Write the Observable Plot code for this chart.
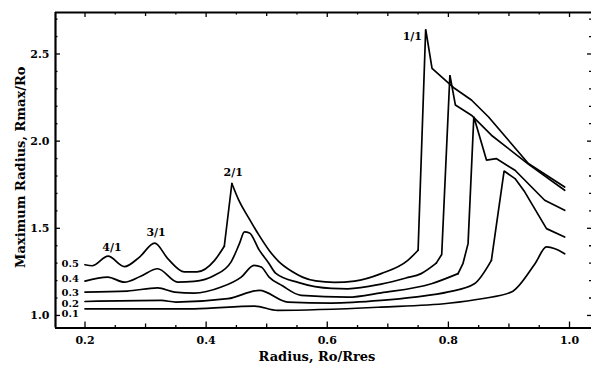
<!DOCTYPE html>
<html><head><meta charset="utf-8">
<script src="https://cdn.jsdelivr.net/npm/d3@7"></script>
<script src="https://cdn.jsdelivr.net/npm/@observablehq/plot@0.6"></script>
<style>
body{margin:0;background:#fff}
#chart svg{font-family:"DejaVu Serif",serif;font-weight:bold;background:#fff}
</style>
</head><body><div id="chart"></div>
<script>
// Curve for e = 0.5
const x05 = [0.200,0.212,0.238,0.265,0.290,0.315,0.337,0.364,0.385,0.414,0.430,0.4425,0.4537,0.4705,0.487,0.5035,0.520,0.542,0.559,0.581,0.612,0.645,0.689,0.733,0.750,0.7625,0.773,0.810,0.838,0.866,0.932,0.992];
const y05 = [1.291,1.285,1.340,1.280,1.335,1.415,1.325,1.250,1.250,1.316,1.397,1.757,1.663,1.558,1.462,1.376,1.309,1.252,1.220,1.198,1.190,1.197,1.240,1.316,1.374,2.642,2.418,2.303,2.236,2.140,1.872,1.737];
// Curve for e = 0.4
const x04 = [0.200,0.2375,0.265,0.292,0.320,0.353,0.380,0.414,0.441,0.455,0.4633,0.4716,0.4875,0.5035,0.5146,0.553,0.607,0.634,0.689,0.730,0.755,0.780,0.789,0.8025,0.8116,0.838,0.871,0.932,0.992];
const y04 = [1.197,1.220,1.191,1.225,1.268,1.191,1.195,1.230,1.306,1.412,1.479,1.473,1.376,1.300,1.243,1.188,1.155,1.153,1.180,1.215,1.240,1.300,1.350,2.379,2.207,2.149,2.034,1.868,1.718];
// Curve for e = 0.3
const x03 = [0.200,0.270,0.320,0.348,0.380,0.425,0.458,0.479,0.491,0.504,0.526,0.557,0.634,0.689,0.772,0.816,0.824,0.8325,0.842,0.863,0.879,0.910,0.959,0.992];
const y03 = [1.134,1.140,1.158,1.134,1.128,1.163,1.220,1.287,1.278,1.220,1.170,1.115,1.105,1.130,1.182,1.240,1.297,1.412,2.140,1.891,1.900,1.833,1.661,1.603];
// Curve for e = 0.2
const x02 = [0.200,0.326,0.350,0.436,0.488,0.535,0.607,0.689,0.744,0.800,0.843,0.871,0.892,0.910,0.926,0.962,0.992];
const y02 = [1.080,1.086,1.077,1.096,1.144,1.077,1.071,1.086,1.105,1.135,1.182,1.316,1.829,1.785,1.709,1.498,1.450];
// Curve for e = 0.1
const x01 = [0.200,0.380,0.480,0.518,0.689,0.800,0.855,0.904,0.943,0.962,0.976,0.992];
const y01 = [1.038,1.038,1.054,1.029,1.048,1.070,1.096,1.134,1.297,1.393,1.383,1.354];

// x-ranges drawn with straight segments (sharp resonance spikes)
const sharp05 = [[0.430, 0.4425], [0.750, 0.992]];
const sharp04 = [[0.780, 0.992]];
const sharp03 = [[0.816, 0.992]];
const sharp02 = [[0.871, 0.992]];
const sharp01 = [];

const seriesNames = ["0.5","0.4","0.3","0.2","0.1"];
const curveLabelY = [1.299,1.213,1.132,1.069,1.011];
const curveLabelX = 0.190;

const peakLabels = ["4/1","3/1","2/1","1/1"];
const peakX = [0.2446,0.3174,0.4446,0.7405];
const peakY = [1.391,1.477,1.818,2.600];

const xTicks = [0.2,0.4,0.6,0.8,1.0];
const yTicks = [1.0,1.5,2.0,2.5];
const xMid = [0.3,0.5,0.7,0.9];
const xMinor = [0.25,0.35,0.45,0.55,0.65,0.75,0.85,0.95];
const yMinor = [1.1,1.2,1.3,1.4,1.6,1.7,1.8,1.9,2.1,2.2,2.3,2.4,2.6,2.7];

const xDomain = [0.1513, 1.0363];
const yDomain = [0.928, 2.738];

const W = 591, H = 366, mL = 55, mR = 0, mT = 12, mB = 38.5;
const pxX = (W - mL - mR) / (xDomain[1] - xDomain[0]);
const pxY = (H - mT - mB) / (yDomain[1] - yDomain[0]);

const series = [[x05,y05,sharp05],[x04,y04,sharp04],[x03,y03,sharp03],[x02,y02,sharp02],[x01,y01,sharp01]];
// Split each series into pieces: straight pieces inside sharp spans, smooth elsewhere
const rows = [];
series.forEach(([xs, ys, spans], k) => {
  const inSpan = (a, b) => spans.some(([s, e]) => a >= s - 1e-9 && b <= e + 1e-9);
  let piece = 0, cur = null;
  for (let i = 0; i < xs.length - 1; i++) {
    const type = inSpan(xs[i], xs[i + 1]) ? "linear" : "smooth";
    if (type !== cur) { piece++; cur = type; rows.push({id: k + "-" + piece, type, x: xs[i], y: ys[i]}); }
    rows.push({id: k + "-" + piece, type, x: xs[i + 1], y: ys[i + 1]});
  }
});

const [X0, X1] = xDomain, [Y0, Y1] = yDomain;
const tickMarks = (vals, lenPx, side) => {
  if (side === "bottom") return Plot.ruleX(vals, {x: d => d, y1: Y0, y2: Y0 + lenPx / pxY, stroke: "#000", strokeWidth: 1.3});
  if (side === "top") return Plot.ruleX(vals, {x: d => d, y1: Y1, y2: Y1 - lenPx / pxY, stroke: "#000", strokeWidth: 1.3});
  if (side === "left") return Plot.ruleY(vals, {y: d => d, x1: X0, x2: X0 + lenPx / pxX, stroke: "#000", strokeWidth: 1.3});
  return Plot.ruleY(vals, {y: d => d, x1: X1, x2: X1 - lenPx / pxX, stroke: "#000", strokeWidth: 1.3});
};

const chart = Plot.plot({
  width: W, height: H,
  marginLeft: mL, marginRight: mR, marginTop: mT, marginBottom: mB,
  style: {fontFamily: "'DejaVu Serif', serif", fontWeight: "bold", fontSize: "11px", background: "#fff", overflow: "visible"},
  x: {domain: xDomain},
  y: {domain: yDomain},
  marks: [
    Plot.line(rows.filter(d => d.type === "smooth"), {x: "x", y: "y", z: "id", stroke: "#000", strokeWidth: 1.7, curve: "monotone-x"}),
    Plot.line(rows.filter(d => d.type === "linear"), {x: "x", y: "y", z: "id", stroke: "#000", strokeWidth: 1.7, curve: "linear", strokeLinejoin: "miter"}),
    // frame
    Plot.ruleY([Y0], {stroke: "#000", strokeWidth: 2.2}),
    Plot.ruleY([Y1], {stroke: "#000", strokeWidth: 2}),
    Plot.ruleX([X0], {stroke: "#000", strokeWidth: 2.2}),
    // ticks
    tickMarks(xTicks, 6, "bottom"), tickMarks(xMid, 4, "bottom"), tickMarks(xMinor, 2.5, "bottom"),
    tickMarks(xTicks, 5, "top"), tickMarks(xMid, 4, "top"), tickMarks(xMinor, 2.5, "top"),
    tickMarks(yTicks, 5, "left"), tickMarks(yMinor, 2.5, "left"),
    tickMarks(yTicks, 4, "right"), tickMarks(yMinor, 2, "right"),
    Plot.axisX({ticks: xTicks, anchor: "bottom", tickSize: 0, tickPadding: 8, tickFormat: d => d.toFixed(1), label: null, fontSize: 11}),
    Plot.axisY({ticks: yTicks, anchor: "left", tickSize: 0, tickPadding: 6, tickFormat: d => d.toFixed(1), label: null, fontSize: 11}),
    // curve labels
    Plot.text(seriesNames, {x: () => curveLabelX, y: (d, i) => curveLabelY[i], text: d => d, textAnchor: "end", fontSize: 10, fontWeight: "bold"}),
    // resonance labels
    Plot.text(peakLabels, {x: (d, i) => peakX[i], y: (d, i) => peakY[i], text: d => d, fontSize: 11, fontWeight: "bold"}),
    // axis titles
    Plot.text(["Maximum Radius, Rmax/Ro"], {frameAnchor: "left", rotate: -90, dx: -35, dy: -3, textAnchor: "middle", lineAnchor: "middle", fontSize: 13, fontWeight: "bold"}),
    Plot.text(["Radius, Ro/Rres"], {frameAnchor: "bottom", dx: -6.5, dy: 28.5, textAnchor: "middle", lineAnchor: "middle", fontSize: 13, fontWeight: "bold"})
  ]
});
document.getElementById("chart").appendChild(chart);
</script>
</body></html>
